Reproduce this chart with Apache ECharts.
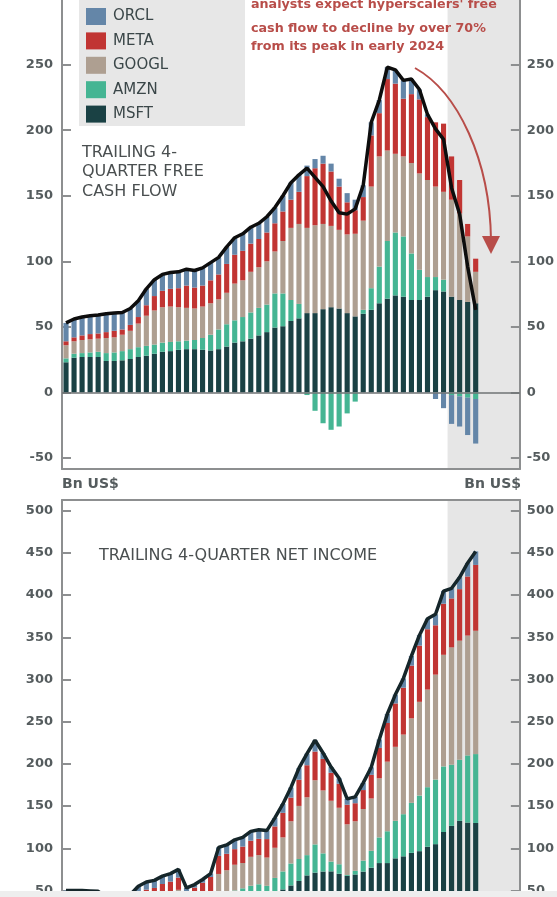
<!DOCTYPE html>
<html><head><meta charset="utf-8">
<script src="https://cdn.jsdelivr.net/npm/echarts@6/dist/echarts.min.js"></script>
<style>html,body{margin:0;padding:0;background:#fff}#c{width:557px;height:897px}</style>
</head><body><div id="c"></div>
<script>
const categories = ['2014Q1','2014Q2','2014Q3','2014Q4','2015Q1','2015Q2','2015Q3','2015Q4','2016Q1','2016Q2','2016Q3','2016Q4','2017Q1','2017Q2','2017Q3','2017Q4','2018Q1','2018Q2','2018Q3','2018Q4','2019Q1','2019Q2','2019Q3','2019Q4','2020Q1','2020Q2','2020Q3','2020Q4','2021Q1','2021Q2','2021Q3','2021Q4','2022Q1','2022Q2','2022Q3','2022Q4','2023Q1','2023Q2','2023Q3','2023Q4','2024Q1','2024Q2','2024Q3','2024Q4','2025Q1','2025Q2','2025Q3','2025Q4','2026Q1','2026Q2','2026Q3','2026Q4','2027Q1','2027Q2','2027Q3','2027Q4','2028Q1'];
const forecastStart = '2026Q1';

// Trailing 4-quarter free cash flow, Bn US$
const msftFcf  = [23,26.5,27,27,27,24,24,24.5,25.5,27,28,29.5,31,31.5,32.5,33,33,32.5,32,33,35,38,39,41,43.5,46,49.5,50.5,54.5,56.5,60.5,60.5,63.5,65,64,60.5,58,60,63,68,71.5,74,73,70.5,70.5,73,78,77,73,70.5,69,68];
const amznFcf  = [3,3,3,3.5,4,6,6.5,7,7.5,7.5,7.5,7,7,7,6.5,6.5,7,9,12,15,17,17,18.5,20,21,21,26,25,16,11,-2,-14,-23.5,-28.5,-26,-16,-7,3,16.5,28,44,48,46,35.5,23,15,10,9,-2,-3,-4,-5];
const googlFcf = [10,9.5,10,10,10,11.5,11.5,12.5,14,18,23,26,27,27,26,25,24,24,24,23,24,28,28,31,31,33,32,40,55,61,65,67,65,62,60,60,63,68,77.5,84,69,60,61,69,73.5,74,69,67,74,66,50,24];
const metaFcf  = [3,3,3.5,4,4,4.5,5,4,4.5,5,8,11,12.5,13.5,14.5,17,16,16,17.5,19,22,22,22.5,21.5,21.5,22,21.5,22.5,21.5,24.5,39.5,43.5,46,41.5,33,24.5,18,18,39,33,54.5,53.5,44,52.5,56.5,48,49,52,33,25.5,9.5,10];
const orclFcf  = [14,14,14,14,14,14,13.5,13,12.5,12.5,12.5,12.5,12.5,12.5,12.5,12.5,13,13.5,13.5,13,13,13,13,12.5,12,12,12,12,13,13,8,7,6,6,6,7,8,9,10,10,9,10.5,14,11.5,7.5,2,-5,-12,-22,-23,-28.5,-34];
const totalFcf = [53,56,57.5,58.5,59,60,60.5,61,64,70,79,86,90,91.5,92,94,93,95,99,103,111,118,121,126,129,134,141,150,160,166,171,164,157,146,137,136,140,158,206,223,248,246,238,239,231,212,201,193,156,136,96,63];

// Trailing 4-quarter net income, Bn US$
const msftNi  = [22.5,22.5,22.5,22,21.5,12.5,12.2,12.2,12,16.8,17.5,19,21,21.2,25.5,10.5,12.3,16.6,19.3,33.5,35,39.2,41.5,44,45.5,44.3,47.5,51.3,56,61.3,67.9,71.2,72.5,72.7,69.8,67.4,69,72.4,77,82.5,82.5,88.1,90.5,94.6,96.6,101.8,104.9,119.3,126.6,132.5,130.5,130];
const amznNi  = [0.2,0.1,0,-0.2,-0.3,0,0.3,0.6,1,1.5,2,2.4,2.4,2.5,2.3,3,4.9,6.5,8.5,10.1,10.5,10.8,11.1,11.6,11.9,11.2,17.4,21.3,26,26,24,33.4,21.5,11.6,11.3,1,4.3,13,20,30.4,37.7,44.4,49.9,59.2,65.9,70.6,76.5,77.7,72.4,72.4,79.5,81.6];
const googlNi = [13.5,13.5,13.5,14.5,14.5,15.5,15.8,16.3,17,18,18.5,19.5,21.5,22,23,12.7,17,17.5,18,26,28.5,30.5,30,34.3,34.5,33.5,35.7,40.3,50,62.9,68.5,76,74.5,72,66.9,60,58.7,61.1,62,70,82.4,87.7,94.3,100.1,111,115.6,124.3,132.2,139,141.1,142,146.1];
const metaNi  = [2.8,2.9,3,2.7,2.8,4,3.9,4.4,6,9.7,13,12.1,12.8,14.8,14.5,17,19.2,18.6,20.2,21.4,19.5,18.5,19.4,19.1,19.3,21.9,25.3,29.1,28,31,38,34,37.4,33.2,28.4,23.2,21.4,22.5,28,36,45.8,51.4,55.5,62.4,66.6,71.5,58.5,60.5,58,61,70,78];
const orclNi  = [11,11,11,10.5,10.5,10,9.8,9.5,9,9,9,9,9.3,9.5,9.7,9.8,3.6,3.8,4,10,10.5,11,11,11,10.8,10.1,10.1,10.5,12,13.7,13.7,13.4,7,6.7,6.5,7,7.5,8.5,9,10,10.7,10.5,11,11.5,12.4,12.4,13,15,12,14,16,16];
const totalNi = [50,50,50,49.5,49,42,42,43,45,55,60,62,67,70,75,53,57,63,70,101,104,110,113,120,122,121,136,152.5,172,194.9,212.1,228,212.9,196.2,182.9,158.6,160.9,177.5,196,228.9,259.1,282.1,301.2,327.8,352.5,371.9,377.2,404.7,408,421,438,451.7];

const fcfTicks = [-50,0,50,100,150,200,250];
const niTicks = [50,100,150,200,250,300,350,400,450,500];

const colors = {MSFT:'#1a4144', AMZN:'#45b593', GOOGL:'#ae9f91', META:'#c13533', ORCL:'#6486a8'};
const FONT = 'DejaVu Sans';
const AXIS_GREY = '#8d8f90';

const topRange = {min:-58.4, max:299.3};
const botRange = {min:45.8, max:512.6};

function yAx(grid, pos, range, ticks, margin) {
  return {
    type:'value', gridIndex:grid, position:pos, min:range.min, max:range.max,
    axisLine:{show:true, lineStyle:{color:AXIS_GREY, width:2}},
    axisTick:{show:true, inside:true, length:9, customValues:ticks, lineStyle:{color:AXIS_GREY, width:2}},
    axisLabel:{customValues:ticks, margin:margin, color:'#555c5e', fontFamily:FONT, fontWeight:'bold', fontSize:13},
    splitLine:{show:false}
  };
}
function xAx(grid, pos) {
  return {
    type:'category', gridIndex:grid, data:categories, position:pos,
    axisLine:{show:true, onZero:false, lineStyle:{color:AXIS_GREY, width:2}},
    axisTick:{show:false}, axisLabel:{show:false}, splitLine:{show:false}
  };
}
function bar(name, data, stack, ax) {
  return {name, type:'bar', stack, data, xAxisIndex:ax, yAxisIndex:ax*2,
    barCategoryGap:'36%', itemStyle:{color:colors[name]}, emphasis:{disabled:true}};
}

const topSeries = [
  bar('MSFT', msftFcf, 'fcf', 0), bar('AMZN', amznFcf, 'fcf', 0), bar('GOOGL', googlFcf, 'fcf', 0),
  bar('META', metaFcf, 'fcf', 0), bar('ORCL', orclFcf, 'fcf', 0)
];
topSeries[0].markLine = {silent:true, symbol:'none', label:{show:false},
  lineStyle:{color:'#6f7374', width:1.5, type:'solid'}, data:[{yAxis:0}]};
const botSeries = [
  bar('MSFT', msftNi, 'ni', 1), bar('AMZN', amznNi, 'ni', 1), bar('GOOGL', googlNi, 'ni', 1),
  bar('META', metaNi, 'ni', 1), bar('ORCL', orclNi, 'ni', 1)
];
const lines = [
  {name:'Total FCF', type:'line', data:totalFcf, xAxisIndex:0, yAxisIndex:0, symbol:'none', z:5,
   lineStyle:{color:'#0d0d0d', width:3.5}, emphasis:{disabled:true}},
  {name:'Total NI', type:'line', data:totalNi, xAxisIndex:1, yAxisIndex:2, symbol:'none', z:5,
   lineStyle:{color:'#15262a', width:3.5}, emphasis:{disabled:true}}
];

const chart = echarts.init(document.getElementById('c'), null, {renderer:'canvas'});
chart.setOption({
  animation:false,
  backgroundColor:'#ffffff',
  grid:[
    {left:62, right:36, top:0, height:469},
    {left:62, right:36, top:500, height:397}
  ],
  xAxis:[xAx(0,'bottom'), xAx(1,'top')],
  yAxis:[
    yAx(0,'left',topRange,fcfTicks,9), yAx(0,'right',topRange,fcfTicks,7),
    yAx(1,'left',botRange,niTicks,9), yAx(1,'right',botRange,niTicks,7)
  ],
  legend:{
    data:['ORCL','META','GOOGL','AMZN','MSFT'], orient:'vertical', left:86, top:8, padding:0,
    itemWidth:20, itemHeight:17, itemGap:7.4, icon:'rect', z:10, selectedMode:false,
    textStyle:{fontFamily:FONT, fontSize:15, color:'#3b4749', padding:[0,0,0,2]}
  },
  series:[...topSeries, ...botSeries, ...lines]
});

// shaded forecast region, located through the axes
const c0 = chart.convertToPixel({xAxisIndex:0}, forecastStart);
const c1 = chart.convertToPixel({xAxisIndex:0}, categories[categories.indexOf(forecastStart)+1]);
const band = c1 - c0;
const shadeL = c0 - band/2;
const shadeR = chart.convertToPixel({xAxisIndex:0}, categories[categories.length-1]) + band/2;
const topY0 = chart.convertToPixel({yAxisIndex:0}, topRange.max);
const topY1 = chart.convertToPixel({yAxisIndex:0}, topRange.min);
const botY0 = chart.convertToPixel({yAxisIndex:2}, botRange.max);
const botY1 = chart.convertToPixel({yAxisIndex:2}, botRange.min);

const red = '#b84d49';
const noteFont = 'bold 12.7px "DejaVu Sans"';
const titleFont = '16px "DejaVu Sans"';
chart.setOption({
  graphic:[
    {type:'rect', z:0, silent:true, shape:{x:shadeL, y:topY0, width:shadeR-shadeL, height:topY1-topY0}, style:{fill:'#e6e6e6'}},
    {type:'rect', z:0, silent:true, shape:{x:shadeL, y:botY0, width:shadeR-shadeL, height:botY1-botY0}, style:{fill:'#e6e6e6'}},
    {type:'rect', z:1, silent:true, shape:{x:79, y:0, width:166, height:126}, style:{fill:'#e7e7e7'}},
    {type:'text', z:100, left:82, top:143, style:{text:'TRAILING 4-\nQUARTER FREE\nCASH FLOW', font:titleFont, fill:'#4a4f50', lineHeight:19.5}},
    {type:'text', z:100, left:99, top:546, style:{text:'TRAILING 4-QUARTER NET INCOME', font:titleFont, fill:'#4a4f50', lineHeight:19.5}},
    {type:'text', z:100, left:251, top:-2, style:{text:"analysts expect hyperscalers' free", font:noteFont, fill:red}},
    {type:'text', z:100, left:251, top:22, style:{text:'cash flow to decline by over 70%', font:noteFont, fill:red}},
    {type:'text', z:100, left:251, top:40, style:{text:'from its peak in early 2024', font:noteFont, fill:red}},
    {type:'text', z:100, left:62, top:477, style:{text:'Bn US$', font:'bold 14px "DejaVu Sans"', fill:'#555c5e'}},
    {type:'text', z:100, right:36, top:477, style:{text:'Bn US$', font:'bold 14px "DejaVu Sans"', fill:'#555c5e'}},
    {type:'bezierCurve', z:100, silent:true, shape:{x1:415, y1:68, cpx1:458, cpy1:92, cpx2:490, cpy2:160, x2:491, y2:240}, style:{stroke:red, lineWidth:2, fill:null}},
    {type:'polygon', z:100, silent:true, shape:{points:[[482,236],[500,236],[491,254]]}, style:{fill:red}},
    {type:'rect', z:100, silent:true, shape:{x:0, y:891, width:557, height:6}, style:{fill:'#eeeeee'}}
  ]
});
</script></body></html>
